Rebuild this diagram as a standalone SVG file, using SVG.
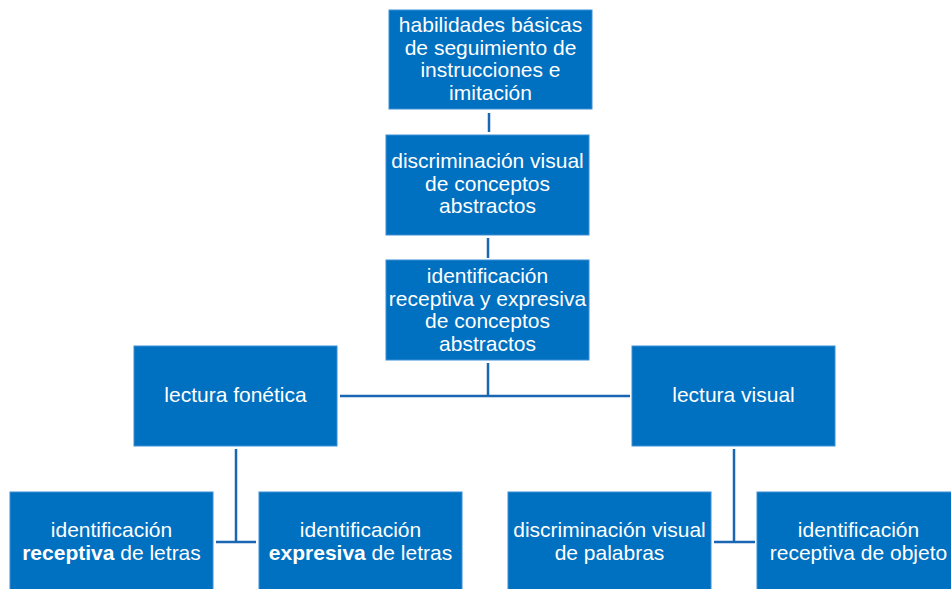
<svg xmlns="http://www.w3.org/2000/svg" width="951" height="589" viewBox="0 0 951 589">
<style>
.box{fill:#0070c0;stroke:#3d8fd6;stroke-width:1}
.t{font-family:"Liberation Sans",Arial,sans-serif;font-size:21px;fill:#ffffff;text-anchor:middle}
.b{font-weight:bold}
.c{stroke:#1a66b3;stroke-width:2.5;fill:none}
</style>
<rect width="951" height="589" fill="#ffffff"/>
<g id="connectors">
<line class="c" x1="489" y1="113" x2="489" y2="132"/>
<line class="c" x1="488" y1="238" x2="488" y2="258"/>
<line class="c" x1="488" y1="363" x2="488" y2="396"/>
<line class="c" x1="340" y1="396" x2="630" y2="396"/>
<line class="c" x1="236" y1="449" x2="236" y2="542"/>
<line class="c" x1="216" y1="542" x2="256" y2="542"/>
<line class="c" x1="734" y1="449" x2="734" y2="542"/>
<line class="c" x1="714" y1="542" x2="755" y2="542"/>
</g>
<g id="n1">
<rect class="box" x="389" y="10" width="203" height="99"/>
<text class="t" x="490.5" y="32">habilidades básicas</text>
<text class="t" x="490.5" y="54.5">de seguimiento de</text>
<text class="t" x="490.5" y="77">instrucciones e</text>
<text class="t" x="490.5" y="99.5">imitación</text>
</g>
<g id="n2">
<rect class="box" x="386" y="135" width="203" height="100"/>
<text class="t" x="487.5" y="168">discriminación visual</text>
<text class="t" x="487.5" y="190.5">de conceptos</text>
<text class="t" x="487.5" y="213">abstractos</text>
</g>
<g id="n3">
<rect class="box" x="386" y="260" width="203" height="100"/>
<text class="t" x="487.5" y="283">identificación</text>
<text class="t" x="487.5" y="305.5">receptiva y expresiva</text>
<text class="t" x="487.5" y="328">de conceptos</text>
<text class="t" x="487.5" y="350.5">abstractos</text>
</g>
<g id="n4">
<rect class="box" x="134" y="346" width="203" height="100"/>
<text class="t" x="235.5" y="402">lectura fonética</text>
</g>
<g id="n5">
<rect class="box" x="632" y="346" width="203" height="100"/>
<text class="t" x="733.5" y="402">lectura visual</text>
</g>
<g id="n6">
<rect class="box" x="10" y="492" width="203" height="100"/>
<text class="t" x="111.5" y="537">identificación</text>
<text class="t" x="111.5" y="559.5"><tspan class="b">receptiva</tspan> de letras</text>
</g>
<g id="n7">
<rect class="box" x="259" y="492" width="203" height="100"/>
<text class="t" x="360.5" y="537">identificación</text>
<text class="t" x="360.5" y="559.5"><tspan class="b">expresiva</tspan> de letras</text>
</g>
<g id="n8">
<rect class="box" x="508" y="492" width="203" height="100"/>
<text class="t" x="609.5" y="537">discriminación visual</text>
<text class="t" x="609.5" y="559.5">de palabras</text>
</g>
<g id="n9">
<rect class="box" x="757" y="492" width="203" height="100"/>
<text class="t" x="858.5" y="537">identificación</text>
<text class="t" x="858.5" y="559.5">receptiva de objeto</text>
</g>
</svg>
